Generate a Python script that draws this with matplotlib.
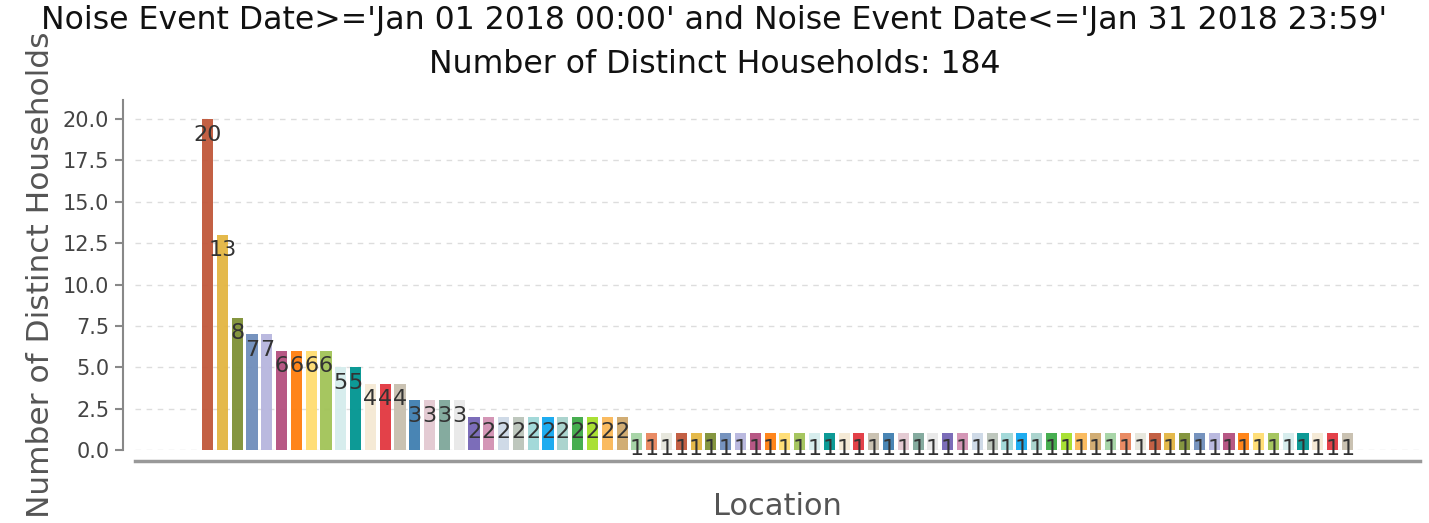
"""Distinct households per location, Jan 2018 noise events."""
import numpy as np
import matplotlib
matplotlib.use("Agg")
import matplotlib.pyplot as plt

# households per location, sorted descending (locations are unlabeled)
counts_top = [20, 13, 8, 7, 7, 6, 6, 6, 6, 5, 5, 4, 4, 4, 3, 3, 3, 3]
counts_two = [2] * 11
counts_one = [1] * 49
counts = counts_top + counts_two + counts_one

title_l1 = "Noise Event Date>='Jan 01 2018 00:00' and Noise Event Date<='Jan 31 2018 23:59'"
title_l2 = f"Number of Distinct Households: {sum(counts)}"
yticks = [0.0, 2.5, 5.0, 7.5, 10.0, 12.5, 15.0, 17.5, 20.0]

PALETTE = [
    "#c0573a", "#e3b541", "#7f9135", "#6f8dbb", "#b7b5de", "#b34f7e",
    "#ff7f0e", "#ffdd71", "#a1c357", "#d5eded", "#009590", "#f5e9d4",
    "#e2373f", "#c8bfae", "#3f7fb0", "#e3c9d1", "#7fa79a", "#e8e8e8",
    "#7565b5", "#d290b2", "#cdd8e6", "#bbc4ba", "#9ed7d7", "#12a8f0",
    "#a7d2cc", "#3daa46", "#a5df2a", "#fab857", "#cfa96d", "#a4d3a4",
    "#e8855c", "#e6e6dc",
]


def main():
    fig = plt.figure(figsize=(14.29, 5.23), dpi=100)
    ax = fig.add_axes([135 / 1429, 73 / 523, 1285 / 1429, 350 / 523])

    x = np.arange(len(counts))
    colors = [PALETTE[i % len(PALETTE)] for i in x]
    ax.bar(x, counts, width=0.75, color=colors, alpha=0.95, zorder=2)
    for xi, c in zip(x, counts):
        ax.annotate(str(c), (xi, c), xytext=(0, -4), textcoords="offset points",
                    ha="center", va="top", fontsize=16, color="#333333", zorder=3)

    ax.set_xlim(-4.9, 81.9)
    ax.set_ylim(0, 21.15)
    ax.set_yticks(yticks)
    ax.set_yticklabels([f"{t:.1f}" for t in yticks])
    ax.set_xticks([])
    ax.tick_params(axis="y", labelsize=15, labelcolor="#444444", color="#888888",
                   length=6, width=1.5)
    ax.grid(axis="y", linestyle=(0, (4, 4)), color="#dddddd", linewidth=1, zorder=0)

    for s in ("top", "right"):
        ax.spines[s].set_visible(False)
    ax.spines["left"].set_position(("outward", 9))
    ax.spines["left"].set_color("#888888")
    ax.spines["left"].set_linewidth(1.5)
    ax.spines["bottom"].set_position(("outward", 8))
    ax.spines["bottom"].set_color("#999999")
    ax.spines["bottom"].set_linewidth(2.5)

    ax.set_xlabel("Location", fontsize=22, color="#555555", labelpad=22)
    ax.set_ylabel("Number of Distinct Households", fontsize=22.5, color="#555555", labelpad=6)
    fig.suptitle(f"{title_l1}\n{title_l2}", fontsize=22.7, color="#111111", y=0.99,
                 linespacing=1.55)

    fig.savefig("out.png", dpi=100)
    plt.close(fig)


if __name__ == "__main__":
    main()
